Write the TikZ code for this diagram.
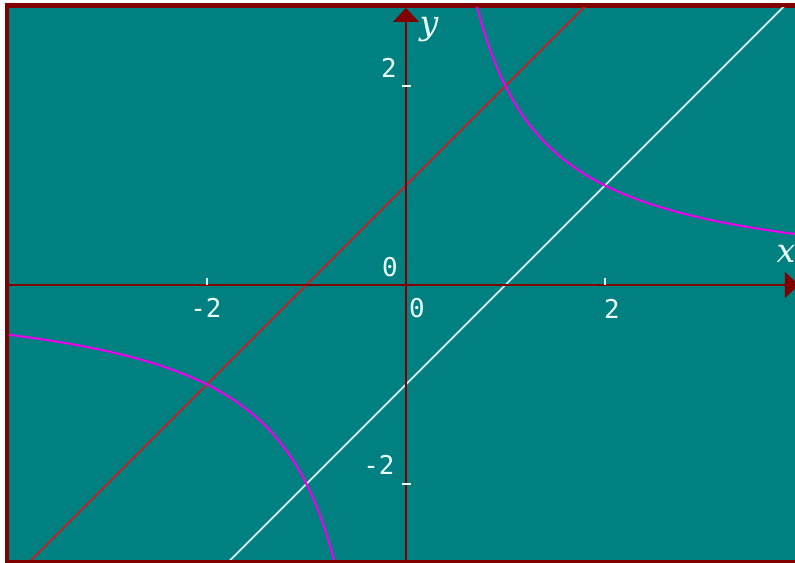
\documentclass[tikz,border=0pt]{standalone}
\usepackage{fontspec}
\newfontfamily\lblfont{DejaVu Sans Mono}
\newfontfamily\varfont{DejaVu Serif}
\definecolor{bgteal}{RGB}{0,128,128}
\definecolor{axred}{RGB}{128,0,0}
\definecolor{linered}{RGB}{205,30,30}
\definecolor{curvemag}{RGB}{235,0,235}
\definecolor{linewhite}{RGB}{215,240,240}
\definecolor{txtwhite}{RGB}{235,255,255}
\tikzset{
  axisline/.style={axred, line width=0.8pt},
  tipfill/.style={fill=axred},
  tickline/.style={txtwhite, line width=0.6pt},
  redln/.style={linered, line width=0.5pt},
  whiteln/.style={linewhite, line width=0.5pt},
  hyper/.style={curvemag, line width=0.6pt},
  numlbl/.style={txtwhite, inner sep=0pt, font=\lblfont\fontsize{7.4}{8}\selectfont},
  varlbl/.style={txtwhite, inner sep=0pt, font=\varfont\itshape\fontsize{9.5}{10}\selectfont}
}
\begin{document}
\begin{tikzpicture}[x=1cm,y=1cm]
\useasboundingbox (-4.080,-2.794) rectangle (3.910,2.864);
\clip (-4.080,-2.794) rectangle (3.910,2.864);
\fill[axred] (-4.030,-2.794) rectangle (4.1,2.834);
\fill[bgteal] (-3.990,-2.764) rectangle (4.1,2.784);
\begin{scope}
\clip (-3.990,-2.764) rectangle (4.1,2.784);
% lines
\coordinate (r1) at (-4,-3);
\coordinate (r2) at (2,3);
\coordinate (w1) at (-2,-3);
\coordinate (w2) at (4,3);
\draw[redln] (r1) -- (r2);
\draw[whiteln] (w1) -- (w2);
% hyperbola y = 2/x
\draw[hyper] plot[domain=0.68:4.0, samples=200, smooth] (\x,{2/\x});
\draw[hyper] plot[domain=-4.0:-0.68, samples=200, smooth] (\x,{2/\x});
% axes
\coordinate (xl) at (-3.99,0);
\coordinate (xr) at (3.85,0);
\coordinate (yb) at (0,-2.764);
\coordinate (yt) at (0,2.70);
\draw[axisline] (xl) -- (xr);
\draw[axisline] (yb) -- (yt);
\coordinate (ytip) at (0,2.784);
\coordinate (ybl) at (-0.131,2.643);
\coordinate (ybr) at (0.131,2.643);
\fill[tipfill] (ytip) -- (ybl) -- (ybr) -- cycle;
\coordinate (xtip) at (3.95,0);
\coordinate (xbu) at (3.809,0.131);
\coordinate (xbd) at (3.809,-0.131);
\fill[tipfill] (xtip) -- (xbu) -- (xbd) -- cycle;
% ticks
\coordinate (t1a) at (-0.04,2); \coordinate (t1b) at (0.055,2);
\coordinate (t2a) at (-0.04,-2); \coordinate (t2b) at (0.055,-2);
\coordinate (t3a) at (-2,0); \coordinate (t3b) at (-2,0.065);
\coordinate (t4a) at (2,0); \coordinate (t4b) at (2,0.065);
\draw[tickline] (t1a) -- (t1b);
\draw[tickline] (t2a) -- (t2b);
\draw[tickline] (t3a) -- (t3b);
\draw[tickline] (t4a) -- (t4b);
\end{scope}
% labels
\node[varlbl] (ylab) at (0.231,2.563) {y};
\node[varlbl] (xlab) at (3.819,0.312) {x};
\node[numlbl] (y2) at (-0.171,2.181) {2};
\node[numlbl] (o1) at (-0.161,0.181) {0};
\node[numlbl] (o2) at (0.111,-0.231) {0};
\node[numlbl] (xm2) at (-2.010,-0.231) {-2};
\node[numlbl] (x2) at (2.070,-0.241) {2};
\node[numlbl] (ym2) at (-0.271,-1.809) {-2};
\end{tikzpicture}
\end{document}
